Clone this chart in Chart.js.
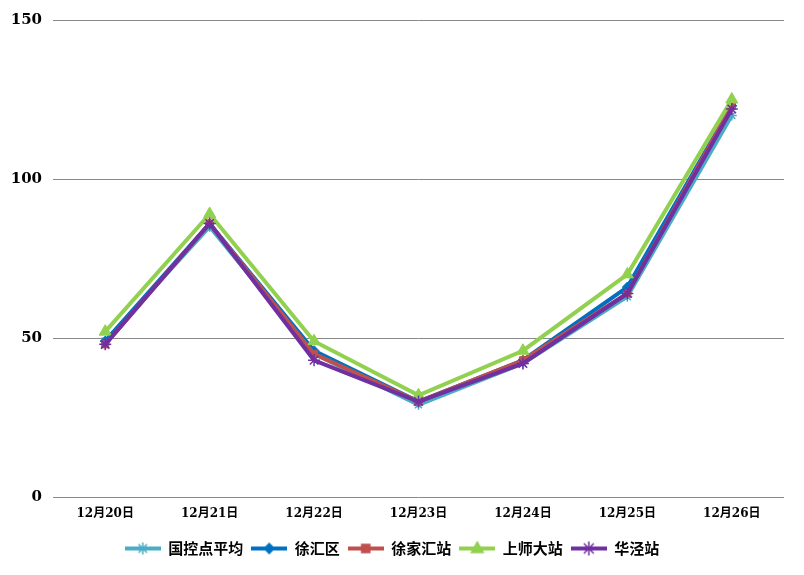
<!DOCTYPE html>
<html>
<head>
<meta charset="utf-8">
<script src="https://cdn.jsdelivr.net/npm/chart.js@4/dist/chart.umd.min.js"></script>
<style>
html,body{margin:0;padding:0;background:#fff;}
#wrap{width:804px;height:575px;}
</style>
</head>
<body>
<div id="wrap"><canvas id="c" width="804" height="575"></canvas></div>
<script>
const categories = ['12月20日','12月21日','12月22日','12月23日','12月24日','12月25日','12月26日'];
const guokong   = [49, 85, 45, 29, 42, 63, 120];
const xuhui     = [49, 86, 46, 30, 43, 66, 123];
const xujiahui  = [48, 86, 45, 30, 43, 64, 123];
const shangshi  = [52, 89, 49, 32, 46, 70, 125];
const huajing   = [48, 86, 43, 30, 42, 64, 122];
const seriesNames = ['国控点平均','徐汇区','徐家汇站','上师大站','华泾站'];
const yTicks = [0, 50, 100, 150];

const colors = ['#4BACC6','#0070C0','#C0504D','#92D050','#7030A0'];
const styles = ['star','rectRot','rect','triangle','star'];
const radii = [5,5,5,7,6];
const values = [guokong, xuhui, xujiahui, shangshi, huajing];

function legendImg(i){
  const cv = document.createElement('canvas');
  cv.width = 36; cv.height = 16;
  const ctx = cv.getContext('2d');
  const c = colors[i];
  ctx.strokeStyle = c; ctx.fillStyle = c; ctx.lineWidth = 4;
  ctx.beginPath(); ctx.moveTo(0,8); ctx.lineTo(36,8); ctx.stroke();
  const cx = 18, cy = 8, r = radii[i] + 1;
  ctx.beginPath();
  if (styles[i] === 'star') {
    ctx.lineWidth = 1.5;
    for (let k = 0; k < 4; k++) {
      const a = k * Math.PI / 4;
      ctx.moveTo(cx - Math.cos(a)*r, cy - Math.sin(a)*r);
      ctx.lineTo(cx + Math.cos(a)*r, cy + Math.sin(a)*r);
    }
    ctx.stroke();
  } else if (styles[i] === 'rectRot') {
    ctx.moveTo(cx, cy - r); ctx.lineTo(cx + r, cy); ctx.lineTo(cx, cy + r); ctx.lineTo(cx - r, cy); ctx.closePath(); ctx.fill();
  } else if (styles[i] === 'rect') {
    const s = r * 0.8;
    ctx.rect(cx - s, cy - s, 2*s, 2*s); ctx.fill();
  } else if (styles[i] === 'triangle') {
    ctx.moveTo(cx, cy - r); ctx.lineTo(cx + r*0.9, cy + r*0.6); ctx.lineTo(cx - r*0.9, cy + r*0.6); ctx.closePath(); ctx.fill();
  }
  return cv;
}

const datasets = values.map((v,i)=>({
  label: seriesNames[i],
  data: v,
  borderColor: colors[i],
  backgroundColor: colors[i],
  borderWidth: 4,
  pointStyle: styles[i],
  pointRadius: radii[i],
  pointBorderWidth: styles[i]==='star' ? 1.5 : 1,
  pointBorderColor: colors[i],
  pointBackgroundColor: colors[i],
  tension: 0,
  order: 5 - i
}));

const imgs = values.map((v,i)=>legendImg(i));

new Chart(document.getElementById('c'), {
  type: 'line',
  data: { labels: categories, datasets },
  options: {
    responsive: false,
    animation: false,
    devicePixelRatio: 1,
    layout: { padding: { top: 19, right: 20, left: 0, bottom: 9 } },
    plugins: {
      tooltip: { enabled: false },
      legend: {
        position: 'bottom',
        labels: {
          usePointStyle: true,
          pointStyleWidth: 36,
          padding: 8,
          color: '#000',
          font: { family: "'Noto Sans CJK SC'", size: 15, weight: 'bold' },
          generateLabels: (chart) => chart.data.datasets.map((d,i)=>({
            text: d.label,
            fillStyle: colors[i],
            strokeStyle: colors[i],
            lineWidth: 0,
            pointStyle: imgs[i],
            hidden: false,
            datasetIndex: i,
            fontColor: '#000'
          }))
        }
      }
    },
    scales: {
      x: {
        offset: true,
        grid: { display: false, drawTicks: false },
        border: { display: false },
        ticks: {
          color: '#000',
          padding: 10,
          maxRotation: 0,
          font: { family: "'DejaVu Serif', 'Noto Sans CJK SC'", size: 12, weight: 'bold' }
        },
        afterFit: (s) => { s.height = 36; }
      },
      y: {
        min: 0, max: 150,
        afterBuildTicks: (s) => { s.ticks = yTicks.map(v=>({value:v})); },
        grid: { color: '#888888', lineWidth: 1, drawTicks: false },
        border: { display: false },
        ticks: {
          color: '#000',
          padding: 11,
          font: { family: "'DejaVu Serif'", size: 15, weight: 'bold' }
        },
        afterFit: (s) => { s.width = 53; }
      }
    }
  }
});
</script>
</body>
</html>
